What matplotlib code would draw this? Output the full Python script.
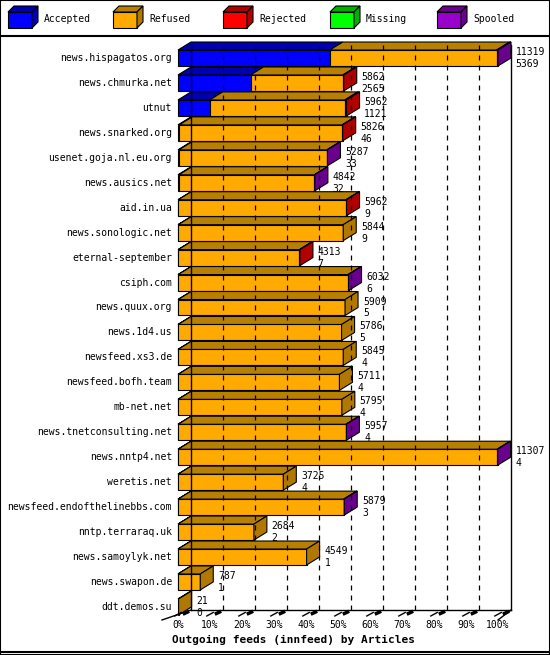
import matplotlib.pyplot as plt
from matplotlib.patches import Polygon, Rectangle

plt.rcParams['font.family'] = ['DejaVu Sans Mono']

# Daten
servers = ["news.hispagatos.org", "news.chmurka.net", "utnut", "news.snarked.org",
           "usenet.goja.nl.eu.org", "news.ausics.net", "aid.in.ua", "news.sonologic.net",
           "eternal-september", "csiph.com", "news.quux.org", "news.1d4.us",
           "newsfeed.xs3.de", "newsfeed.bofh.team", "mb-net.net", "news.tnetconsulting.net",
           "news.nntp4.net", "weretis.net", "newsfeed.endofthelinebbs.com", "nntp.terraraq.uk",
           "news.samoylyk.net", "news.swapon.de", "ddt.demos.su"]
offered = [11319, 5862, 5962, 5826, 5287, 4842, 5962, 5844, 4313, 6032, 5909, 5786,
           5845, 5711, 5795, 5957, 11307, 3725, 5879, 2684, 4549, 787, 21]
accepted = [5369, 2565, 1121, 46, 33, 32, 9, 9, 7, 6, 5, 5, 4, 4, 4, 4, 4, 4, 3, 2, 1, 1, 0]
rejected = [0, 30, 60, 20, 0, 0, 20, 0, 20, 0, 0, 0, 0, 0, 0, 0, 0, 0, 0, 0, 0, 0, 0]
missing = [0] * 23
spooled = [50, 0, 0, 0, 20, 20, 0, 0, 0, 20, 0, 0, 0, 0, 0, 20, 20, 0, 20, 0, 0, 0, 0]
refused = [o - a - r - m - s for o, a, r, m, s in zip(offered, accepted, rejected, missing, spooled)]

categories = ["Accepted", "Refused", "Rejected", "Missing", "Spooled"]
front_cols = ["#0000ff", "#ffaa00", "#ff0000", "#00ff00", "#9900cc"]
top_cols = ["#0000b0", "#b88000", "#b00000", "#00b000", "#6a008e"]
side_cols = ["#0000b0", "#b07800", "#b00000", "#00b000", "#6a008e"]

n = len(servers)
maxval = max(offered)
PX = 3.2          # px pro Prozent
ROW = 24.95       # px pro Zeile
DX = 13 / PX
DY = -8 / ROW
H = 0.32

fig = plt.figure(figsize=(5.5, 6.55), dpi=100)
ax = fig.add_axes([0, 0, 1, 1])
ax.set_xlim(-178 / PX, (550 - 178) / PX)
ax.set_ylim((655 - 58) / ROW, -58 / ROW)
ax.axis('off')

floor = (610 - 58) / ROW
top = (45 - 58) / ROW

# Gitter
for p in range(10, 100, 10):
    ax.plot([p + DX, p + DX], [top, floor], color='black', ls=(0, (4, 4)), lw=0.9)
ax.plot([DX, DX], [top, floor], color='black', lw=1)
ax.plot([100 + DX, 100 + DX], [top, floor], color='black', lw=1)
ax.plot([DX, 100 + DX], [floor, floor], color='black', lw=1)
ax.plot([-5, DX], [floor + 0.4, floor], color='black', lw=1)
ax.plot([100, 100 + DX], [floor + 0.4, floor], color='black', lw=1)
for p in range(0, 101, 10):
    ax.plot([p - 1, p + 1], [floor + 0.24, floor + 0.1], color='black', lw=1)
    ax.plot([p + 2, p + 3], [floor + 0.14, floor + 0.08], color='black', lw=2.5)
    ax.text(p, floor + 0.6, f"{p}%", ha='center', va='center', fontsize=7)

ax.text(36, (640 - 58) / ROW, "Outgoing feeds (innfeed) by Articles", ha='center',
        va='center', fontsize=8, fontweight='bold')

for i in range(n):
    vals = [accepted[i], refused[i], rejected[i], missing[i], spooled[i]]
    x = 0
    last = 1
    for k, v in enumerate(vals):
        if v <= 0:
            continue
        w = v / maxval * 100
        ax.add_patch(Rectangle((x, i - H), w, 2 * H, fc=front_cols[k], ec='black', lw=0.8))
        ax.add_patch(Polygon([(x, i - H), (x + w, i - H), (x + w + DX, i - H + DY),
                              (x + DX, i - H + DY)], fc=top_cols[k], ec='black', lw=0.8))
        x += w
        last = k
    ax.add_patch(Polygon([(x, i - H), (x + DX, i - H + DY), (x + DX, i + H + DY), (x, i + H)],
                         fc=side_cols[last], ec='black', lw=0.8))
    ax.text(-1.9, i, servers[i], ha='right', va='center', fontsize=7)
    ax.text(x + DX + 1.5, i - 0.24, str(offered[i]), ha='left', va='center', fontsize=7)
    ax.text(x + DX + 1.5, i + 0.24, str(accepted[i]), ha='left', va='center', fontsize=7)

# Legende (Pixel-Koordinaten)
lg = fig.add_axes([0, 1 - 36 / 655, 1, 36 / 655])
lg.set_xlim(0, 550)
lg.set_ylim(36, 0)
lg.axis('off')
box_x = [8, 113, 223, 330, 437]
for k, bx in enumerate(box_x):
    lg.add_patch(Rectangle((bx, 12), 24, 16, fc=front_cols[k], ec='black', lw=0.8))
    lg.add_patch(Polygon([(bx, 12), (bx + 24, 12), (bx + 30, 6), (bx + 6, 6)],
                         fc=top_cols[k], ec='black', lw=0.8))
    lg.add_patch(Polygon([(bx + 24, 12), (bx + 30, 6), (bx + 30, 22), (bx + 24, 28)],
                         fc=side_cols[k], ec='black', lw=0.8))
    lg.text(bx + 36, 19, categories[k], ha='left', va='center', fontsize=7)

# Rahmen
fig.add_artist(plt.Line2D([0, 1], [1 - 36 / 655, 1 - 36 / 655], color='black', lw=1.5))
fig.add_artist(plt.Line2D([0, 1], [1 - 652 / 655, 1 - 652 / 655], color='black', lw=1.5))
fig.add_artist(Rectangle((0, 0), 1, 1, transform=fig.transFigure, fill=False, ec='black', lw=1.5))

fig.savefig("out.png", dpi=100)
